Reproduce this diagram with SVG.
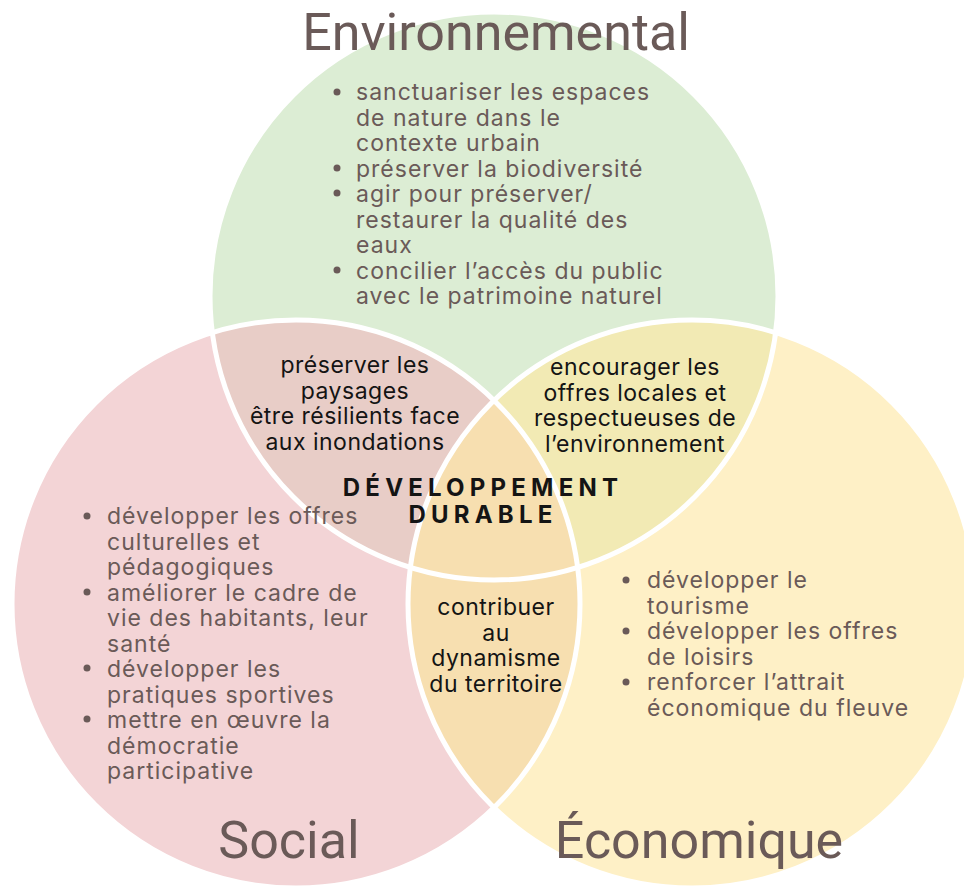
<svg xmlns="http://www.w3.org/2000/svg" width="964" height="886" viewBox="0 0 964 886">
<style>
.title{font-family:Roboto,"Liberation Sans",sans-serif;font-size:52px;fill:#6a5a58}
.bul{font-family:Inter,"Liberation Sans",sans-serif;font-size:23px;letter-spacing:1px;fill:#6a5a58}
.dot{fill:#6a5a58}
.mid{font-family:Inter,"Liberation Sans",sans-serif;font-size:23px;letter-spacing:0.5px;fill:#141414;text-anchor:middle}
.core{font-family:Inter,"Liberation Sans",sans-serif;font-size:24px;font-weight:700;fill:#141414;text-anchor:middle;letter-spacing:5.2px}
.edge{fill:none;stroke:#ffffff;stroke-width:5}
</style>
<defs>
<clipPath id="cG"><circle cx="494" cy="296" r="284"/></clipPath>
<clipPath id="cR"><circle cx="296" cy="604" r="284"/></clipPath>
</defs>
<rect width="964" height="886" fill="#ffffff"/>
<g id="shapes">
<circle cx="494" cy="296" r="284" fill="#dcedd4"/>
<circle cx="296" cy="604" r="284" fill="#f3d4d6"/>
<circle cx="692" cy="604" r="284" fill="#fef0c6"/>
<circle cx="296" cy="604" r="284" fill="#e8cdc7" clip-path="url(#cG)"/>
<circle cx="692" cy="604" r="284" fill="#f2eab4" clip-path="url(#cG)"/>
<circle cx="692" cy="604" r="284" fill="#f7dfb0" clip-path="url(#cR)"/>
<circle class="edge" cx="494" cy="296" r="284"/>
<circle class="edge" cx="296" cy="604" r="284"/>
<circle class="edge" cx="692" cy="604" r="284"/>
</g>
<g id="environnemental">
<text class="title" x="496" y="50" text-anchor="middle">Environnemental</text>
<circle class="dot" cx="337" cy="92" r="3.5"/>
<circle class="dot" cx="337" cy="168" r="3.5"/>
<circle class="dot" cx="337" cy="193" r="3.5"/>
<circle class="dot" cx="337" cy="270" r="3.5"/>
<text class="bul" x="356" y="100">sanctuariser les espaces</text>
<text class="bul" x="356" y="125.5">de nature dans le</text>
<text class="bul" x="356" y="151">contexte urbain</text>
<text class="bul" x="356" y="176.5">préserver la biodiversité</text>
<text class="bul" x="356" y="202">agir pour préserver/</text>
<text class="bul" x="356" y="227.5">restaurer la qualité des</text>
<text class="bul" x="356" y="253">eaux</text>
<text class="bul" x="356" y="278.5">concilier l’accès du public</text>
<text class="bul" x="356" y="304">avec le patrimoine naturel</text>
</g>
<g id="social">
<text class="title" x="289" y="858" text-anchor="middle">Social</text>
<circle class="dot" cx="87" cy="516" r="3.5"/>
<circle class="dot" cx="87" cy="592" r="3.5"/>
<circle class="dot" cx="87" cy="668" r="3.5"/>
<circle class="dot" cx="87" cy="719" r="3.5"/>
<text class="bul" x="107" y="524">développer les offres</text>
<text class="bul" x="107" y="549.5">culturelles et</text>
<text class="bul" x="107" y="575">pédagogiques</text>
<text class="bul" x="107" y="600.5">améliorer le cadre de</text>
<text class="bul" x="107" y="626">vie des habitants, leur</text>
<text class="bul" x="107" y="651.5">santé</text>
<text class="bul" x="107" y="677">développer les</text>
<text class="bul" x="107" y="702.5">pratiques sportives</text>
<text class="bul" x="107" y="728">mettre en œuvre la</text>
<text class="bul" x="107" y="753.5">démocratie</text>
<text class="bul" x="107" y="779">participative</text>
</g>
<g id="economique">
<text class="title" x="699" y="858" text-anchor="middle">Économique</text>
<circle class="dot" cx="626" cy="580" r="3.5"/>
<circle class="dot" cx="626" cy="631" r="3.5"/>
<circle class="dot" cx="626" cy="682" r="3.5"/>
<text class="bul" x="647" y="588">développer le</text>
<text class="bul" x="647" y="613.5">tourisme</text>
<text class="bul" x="647" y="639">développer les offres</text>
<text class="bul" x="647" y="664.5">de loisirs</text>
<text class="bul" x="647" y="690">renforcer l’attrait</text>
<text class="bul" x="647" y="715.5">économique du fleuve</text>
</g>
<g id="env-social">
<text class="mid" x="355" y="373">préserver les</text>
<text class="mid" x="355" y="398.5">paysages</text>
<text class="mid" x="355" y="424">être résilients face</text>
<text class="mid" x="355" y="449.5">aux inondations</text>
</g>
<g id="env-eco">
<text class="mid" x="635" y="375">encourager les</text>
<text class="mid" x="635" y="400.5">offres locales et</text>
<text class="mid" x="635" y="426">respectueuses de</text>
<text class="mid" x="635" y="451.5">l’environnement</text>
</g>
<g id="social-eco">
<text class="mid" x="496" y="615">contribuer</text>
<text class="mid" x="496" y="640.5">au</text>
<text class="mid" x="496" y="666">dynamisme</text>
<text class="mid" x="496" y="691.5">du territoire</text>
</g>
<g id="center">
<text class="core" x="483" y="496">DÉVELOPPEMENT</text>
<text class="core" x="483" y="523">DURABLE</text>
</g>
</svg>
